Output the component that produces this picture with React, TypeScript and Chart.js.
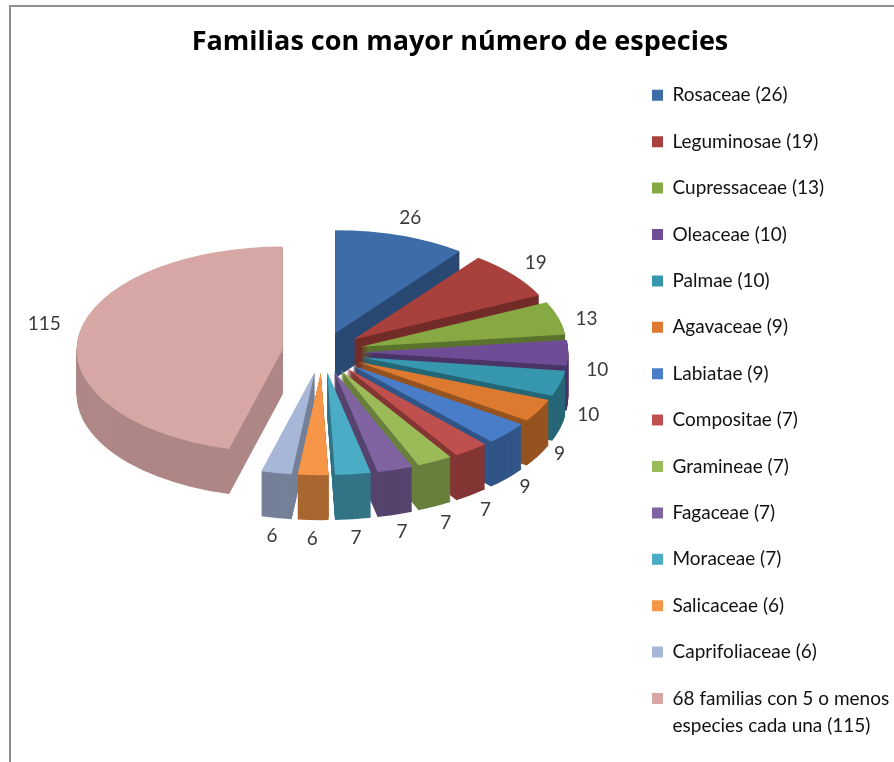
import React, { useEffect, useRef } from 'react';
import { Chart, registerables } from 'chart.js';

Chart.register(...registerables);

// ---- data ----
const chartTitle = 'Familias con mayor número de especies';
const families: (string | string[])[] = [
  'Rosaceae (26)',
  'Leguminosae (19)',
  'Cupressaceae (13)',
  'Oleaceae (10)',
  'Palmae (10)',
  'Agavaceae (9)',
  'Labiatae (9)',
  'Compositae (7)',
  'Gramineae (7)',
  'Fagaceae (7)',
  'Moraceae (7)',
  'Salicaceae (6)',
  'Caprifoliaceae (6)',
  ['68 familias con 5 o menos', 'especies cada una (115)'],
];
const speciesCounts = [26, 19, 13, 10, 10, 9, 9, 7, 7, 7, 7, 6, 6, 115];
const sliceColors = [
  '#3D6CA9', '#A8403C', '#86A943', '#6E4D96', '#3797AE', '#DD7A2F',
  '#4A7DC7', '#C0504D', '#9BBB59', '#8064A2', '#4BACC6', '#F79646',
  '#A6B7D8', '#D7A7A6',
];

// ---- 3D look (layout constants) ----
const TILT = 0.5;
const DEPTH = 45;
const EXPLODE = 40;
const SHIFT_X = -3;
const SHIFT_Y = -58;
const LABEL_GAP = 18;
const LABEL_SIZE = 19;
const FONT = 'Lato, "Open Sans", sans-serif';
const TITLE_FONT = '"Open Sans", Lato, sans-serif';

function shade(hex: string, f: number) {
  const n = parseInt(hex.slice(1), 16);
  const r = (n >> 16) & 255, g = (n >> 8) & 255, b = n & 255;
  return `rgb(${Math.round(r * f)},${Math.round(g * f)},${Math.round(b * f)})`;
}

function getItems(chart: any) {
  const meta = chart.getDatasetMeta(0);
  return (meta.data as any[]).map((a, i) => {
    const p = a.getProps(['x', 'y', 'startAngle', 'endAngle', 'outerRadius'], true);
    return { i, ...p, mid: (p.startAngle + p.endAngle) / 2 };
  });
}

const clamp01 = (v: number) => Math.min(1, Math.max(0, v));

const pie3d = {
  id: 'pie3d',
  beforeDatasetsDraw(chart: any) {
    const ctx: CanvasRenderingContext2D = chart.ctx;
    const items = getItems(chart);
    const colors = chart.data.datasets[0].backgroundColor as string[];
    const path = (it: any, dy: number) => {
      ctx.save();
      ctx.translate(it.x + SHIFT_X, it.y + SHIFT_Y + dy);
      ctx.scale(1, TILT);
      ctx.translate(Math.cos(it.mid) * EXPLODE, Math.sin(it.mid) * EXPLODE);
      ctx.beginPath();
      ctx.moveTo(0, 0);
      ctx.arc(0, 0, it.outerRadius, it.startAngle, it.endAngle);
      ctx.closePath();
      ctx.restore();
    };
    ctx.save();
    const order = [...items].sort((a, b) => Math.sin(a.mid) - Math.sin(b.mid));
    for (const it of order) {
      const f = 0.68 + 0.13 * Math.max(0, -Math.cos(it.mid));
      ctx.fillStyle = shade(colors[it.i], f);
      for (let d = DEPTH; d >= 1; d--) {
        path(it, d);
        ctx.fill();
      }
    }
    for (const it of items) {
      path(it, 0);
      ctx.fillStyle = colors[it.i];
      ctx.fill();
    }
    ctx.restore();
    return false;
  },
  afterDraw(chart: any) {
    const ctx: CanvasRenderingContext2D = chart.ctx;
    const items = getItems(chart);
    const values = chart.data.datasets[0].data as number[];
    ctx.save();
    ctx.font = `${LABEL_SIZE}px ${FONT}`;
    ctx.fillStyle = '#3a3a3a';
    ctx.textAlign = 'center';
    ctx.textBaseline = 'middle';
    for (const it of items) {
      const txt = String(values[it.i]);
      const c = Math.cos(it.mid), s = Math.sin(it.mid);
      const halfW = ctx.measureText(txt).width / 2;
      const halfH = LABEL_SIZE / 2;
      const r = EXPLODE + it.outerRadius + LABEL_GAP;
      const extra = s < 0 && c < 0 ? -10 : DEPTH * clamp01((s + 0.45) / 1.2);
      const x = it.x + SHIFT_X + c * r + c * halfW;
      const y = it.y + SHIFT_Y + s * r * TILT + s * halfH + extra;
      ctx.fillText(txt, x, y);
    }
    ctx.restore();
  },
};

export default function App() {
  const ref = useRef<HTMLCanvasElement>(null);
  useEffect(() => {
    const chart = new Chart(ref.current as HTMLCanvasElement, {
      type: 'pie',
      data: {
        labels: families as any,
        datasets: [
          {
            data: speciesCounts,
            backgroundColor: sliceColors,
            borderWidth: 0,
          },
        ],
      },
      options: {
        responsive: false,
        animation: false,
        devicePixelRatio: 1,
        radius: 206,
        layout: { padding: { left: 26, right: 0, top: 0, bottom: 0 } },
        plugins: {
          title: {
            display: true,
            text: chartTitle,
            color: '#000',
            font: { family: TITLE_FONT, size: 27, weight: 'bold', lineHeight: 1.2 },
            padding: { top: 26, bottom: 0 },
          },
          legend: {
            display: true,
            position: 'right',
            align: 'start',
            fullSize: false,
            maxWidth: 269.4,
            labels: {
              color: '#111',
              boxWidth: 11,
              boxHeight: 11,
              padding: 27.4,
              font: { family: FONT, size: 19, lineHeight: 1.42 },
            },
          },
          tooltip: { enabled: false },
        },
      } as any,
      plugins: [pie3d as any],
    });
    return () => chart.destroy();
  }, []);
  return (
    <div style={{ position: 'fixed', left: 0, top: 0, width: 894, height: 762, background: '#fff', overflow: 'hidden' }}>
      <div
        style={{
          position: 'absolute', left: 9, top: 5, right: -10, bottom: -10,
          borderLeft: '2px solid #8e8e8e', borderTop: '2px solid #8e8e8e',
        }}
      />
      <canvas ref={ref} width={894} height={762} style={{ position: 'absolute', left: 0, top: 0, width: 894, height: 762 }} />
    </div>
  );
}
